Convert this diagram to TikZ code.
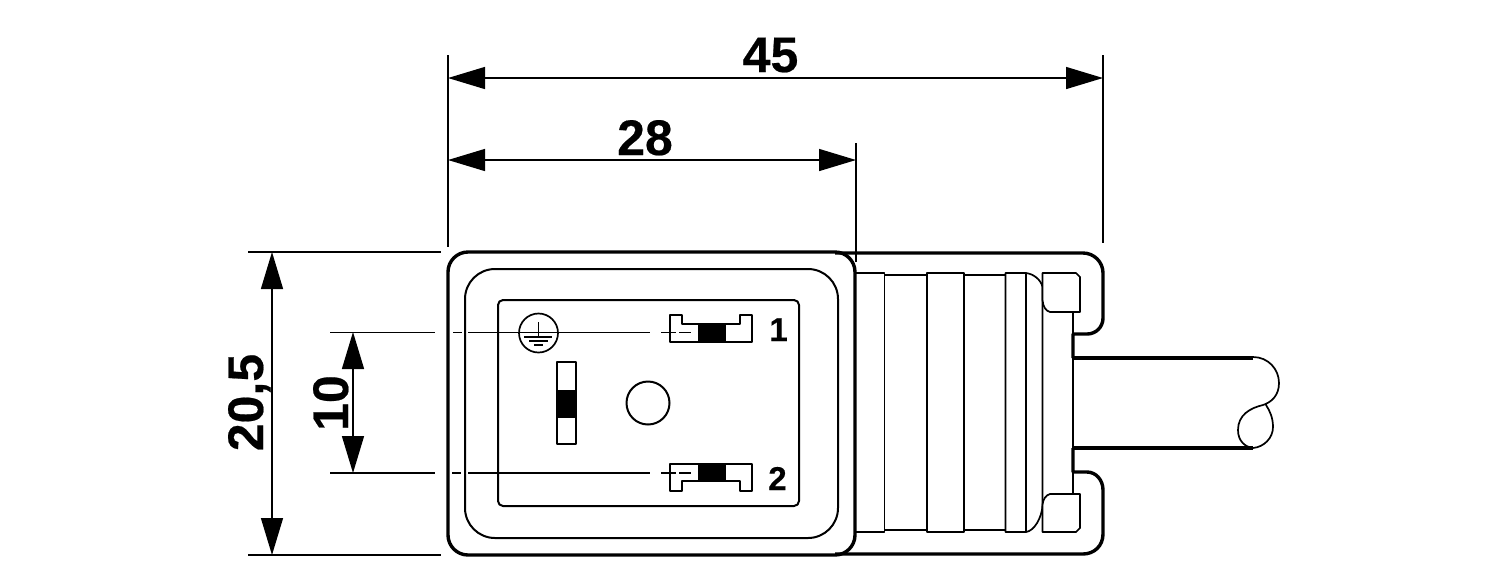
\documentclass[tikz,border=0pt]{standalone}
\usepackage{fontspec}
\setmainfont[BoldFeatures={FakeBold=0.4}]{Liberation Sans}
\usetikzlibrary{arrows.meta}
\tikzset{
	shell/.style={line width=1.7pt},
	edge/.style={line width=1pt},
	thin line/.style={line width=.85pt},
	dim/.style={line width=.7pt,{Triangle[length=18.5pt,width=11pt]}-{Triangle[length=18.5pt,width=11pt]}},
	ext/.style={line width=.7pt},
	num/.style={font=\bfseries\fontsize{25pt}{25pt}\selectfont,inner sep=0pt},
	pinnum/.style={font=\bfseries\fontsize{16.5pt}{16.5pt}\selectfont,inner sep=0pt}
}
\begin{document}
\begin{tikzpicture}[x=.5pt,y=-.5pt,line join=round]
	\useasboundingbox (0,0) rectangle (1500,586);
	\coordinate (A) at (448,252);
	\coordinate (B) at (855,555);
	\coordinate (L) at (448,78);
	\coordinate (R) at (1103,78);
	\coordinate (M) at (856,160);
	\coordinate (N) at (448,160);
	\coordinate (T) at (272,252);
	\coordinate (U) at (272,555);
	\coordinate (P) at (353,332);
	\coordinate (Q) at (353,473);
	% Griff rechts
	\draw[shell] (835,253) -- (1083,253) .. controls (1094,253) and (1103,262) .. (1103,273)
		-- (1103,318) .. controls (1103,327) and (1096,334) .. (1087,334) -- (1073,334) -- (1073,358);
	\draw[shell] (1073,448) -- (1073,472) -- (1087,472) .. controls (1096,472) and (1103,480) .. (1103,490)
		-- (1103,534) .. controls (1103,546) and (1094,554) .. (1083,554) -- (835,554);
	\draw[thin line] (855,273) -- (884.5,273) -- (884.5,532) -- (855,532);
	\draw[thin line] (884.5,275) -- (927,275) (884.5,530) -- (927,530);
	\draw[thin line] (927,273) rectangle (964,532);
	\draw[thin line] (964,275) -- (1005.5,275) (964,530) -- (1005.5,530);
	\draw[thin line] (1005.5,273) -- (1026,273) .. controls (1034,274) and (1041,280) .. (1042.5,287) -- (1042.5,505)
		.. controls (1042,518) and (1034,531) .. (1026,532) -- (1005.5,532) -- cycle;
	\draw[thin line] (1026,273) -- (1026,532);
	\draw[thin line] (1073,312) -- (1073,494);
	% Klemmen oben und unten
	\draw[thin line,fill=white] (1042.5,273) -- (1076,273) -- (1080,277) -- (1080,312) -- (1050,312)
		.. controls (1046,311) and (1043,307) .. (1042.5,300) -- cycle;
	\draw[thin line,fill=white] (1042.5,532) -- (1076,532) -- (1080,528) -- (1080,494) -- (1050,494)
		.. controls (1046,495) and (1043,499) .. (1042.5,505) -- cycle;
	% Kabel
	\draw[shell] (1073,358) -- (1253,358) (1073,448) -- (1253,448);
	\draw[thin line] (1253,357) .. controls (1268,357) and (1279,369) .. (1279,383)
		.. controls (1279,395) and (1272,402) .. (1263,405) .. controls (1250,408) and (1238,415) .. (1238,430)
		.. controls (1238,441) and (1245,447) .. (1253,448) .. controls (1264,447) and (1273,438) .. (1273,427)
		.. controls (1273,418) and (1270,411) .. (1266,405);
	% Stecker
	\draw[shell,rounded corners=10pt] (A) rectangle (B);
	\draw[edge,rounded corners=15pt] (465,269) rectangle (838,538);
	\draw[edge,rounded corners=2.5pt] (498,300) rectangle (799,506);
	% Kontakte
	\fill (698,323) rectangle (726,342);
	\fill (698,464) rectangle (726,481);
	\fill (557,390) rectangle (576,418);
	\draw[edge] (669.5,315) -- (682,315) -- (682,323.5) -- (740,323.5) -- (740,315) -- (752,315) -- (752,342) -- (669.5,342) -- cycle;
	\draw[edge] (669.5,464) -- (752,464) -- (752,491) -- (740,491) -- (740,481) -- (682,481) -- (682,491) -- (669.5,491) -- cycle;
	\draw[edge] (557,362) rectangle (576,444);
	\draw[edge] (648,403) circle (21.5);
	% Erde
	\draw[thin line] (538.5,333) circle (19.5);
	\draw[thin line] (538.5,322) -- (538.5,337) (524,337) -- (552,337) (529,341) -- (548,341) (534,345) -- (543,345);
	% Mittellinien
	\draw[ext] (330,332.5) -- (435,332.5) (453,332.5) -- (462,332.5) (468,332.5) -- (650,332.5) (661,332.5) -- (676,332.5) (679,332.5) -- (691,332.5);
	\draw[ext] (330,473) -- (435,473) (452,473) -- (461,473) (468,473) -- (650,473) (661,473) -- (676,473) (679,473) -- (691,473);
	% Masse
	\draw[ext] (448,55) -- (448,247) (1103,55) -- (1103,243) (856,143) -- (856,262);
	\draw[ext] (248,252) -- (441,252) (248,555) -- (441,555);
	\draw[dim] (L) -- (R);
	\draw[dim] (N) -- (M);
	\draw[dim] (T) -- (U);
	\draw[dim] (P) -- (Q);
	\node[num,anchor=base] (n45) at (770.5,72) {45};
	\node[num,anchor=base] (n28) at (645,155) {28};
	\node[num,anchor=base,rotate=90] (n205) at (263,402.5) {20,5};
	\node[num,anchor=base,rotate=90] (n10) at (348,403) {10};
	\node[pinnum,anchor=base] (pin1) at (778.5,341) {1};
	\node[pinnum,anchor=base] (pin2) at (777.5,490) {2};
\end{tikzpicture}
\end{document}
